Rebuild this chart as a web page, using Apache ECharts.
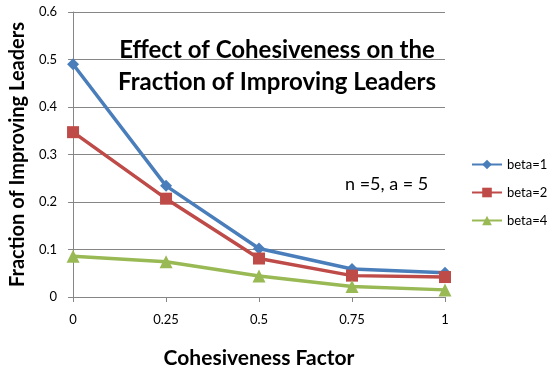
<!DOCTYPE html>
<html><head><meta charset="utf-8">
<script src="https://cdn.jsdelivr.net/npm/echarts@6/dist/echarts.min.js"></script>
<style>html,body{margin:0;padding:0;background:#fff}#c{width:550px;height:374px}</style>
</head><body><div id="c"></div>
<script>
const categories = ['0', '0.25', '0.5', '0.75', '1'];
const beta1 = [0.49, 0.234, 0.102, 0.059, 0.051];
const beta2 = [0.347, 0.207, 0.081, 0.045, 0.042];
const beta4 = [0.086, 0.074, 0.044, 0.022, 0.015];
const seriesNames = ['beta=1', 'beta=2', 'beta=4'];
const yTicks = [0, 0.1, 0.2, 0.3, 0.4, 0.5, 0.6];

const FONT = 'Lato, "Open Sans", sans-serif';
const chart = echarts.init(document.getElementById('c'), null, {renderer: 'canvas'});
const colors = ['#4A7EBB', '#BE4B48', '#98B954'];
const symbols = ['diamond', 'rect', 'triangle'];
const sizes = [12, 12, 13];
const data = [beta1, beta2, beta4];
chart.setOption({
  animation: false,
  textStyle: {fontFamily: FONT},
  title: {
    text: 'Effect of Cohesiveness on the\nFraction of Improving Leaders',
    left: 272, top: 29, textAlign: 'center',
    textStyle: {fontSize: 24, fontWeight: 'bold', color: '#000', lineHeight: 32, fontFamily: FONT}
  },
  graphic: [{
    type: 'text', left: 345, top: 175,
    style: {text: 'n =5, a = 5', fontSize: 18, fill: '#000', fontFamily: FONT}
  }],
  legend: {
    orient: 'vertical', left: 466, top: 153, itemGap: 15, padding: 5,
    itemWidth: 30, itemHeight: 12,
    textStyle: {fontSize: 13, color: '#000'},
    data: seriesNames
  },
  grid: {left: 73, right: 105, top: 12, bottom: 74.5, containLabel: false},
  xAxis: {
    type: 'category', data: categories, boundaryGap: false,
    name: 'Cohesiveness Factor', nameLocation: 'middle', nameGap: 51,
    nameTextStyle: {fontSize: 21, fontWeight: 'bold', color: '#000'},
    axisLine: {lineStyle: {color: '#868686', width: 1}},
    axisTick: {show: true, length: 5, lineStyle: {color: '#868686'}},
    axisLabel: {fontSize: 13, color: '#000', margin: 16}
  },
  yAxis: {
    type: 'value', min: 0, max: 0.6, interval: 0.1,
    name: 'Fraction of Improving Leaders', nameLocation: 'middle', nameGap: 44,
    nameTextStyle: {fontSize: 20, fontWeight: 'bold', color: '#000'},
    axisLine: {show: true, lineStyle: {color: '#868686', width: 1}},
    axisTick: {show: true, length: 5, lineStyle: {color: '#868686'}},
    axisLabel: {fontSize: 13, color: '#000', margin: 16,
      formatter: v => { const t = yTicks.find(x => Math.abs(x - v) < 1e-9); return t === undefined ? '' : String(t); }},
    splitLine: {lineStyle: {color: '#868686', width: 1}}
  },
  series: data.map((d, i) => ({
    name: seriesNames[i], type: 'line', data: d,
    symbol: symbols[i], symbolSize: sizes[i], showAllSymbol: true,
    itemStyle: {color: colors[i]},
    lineStyle: {color: colors[i], width: 3.5}
  }))
});
</script></body></html>
